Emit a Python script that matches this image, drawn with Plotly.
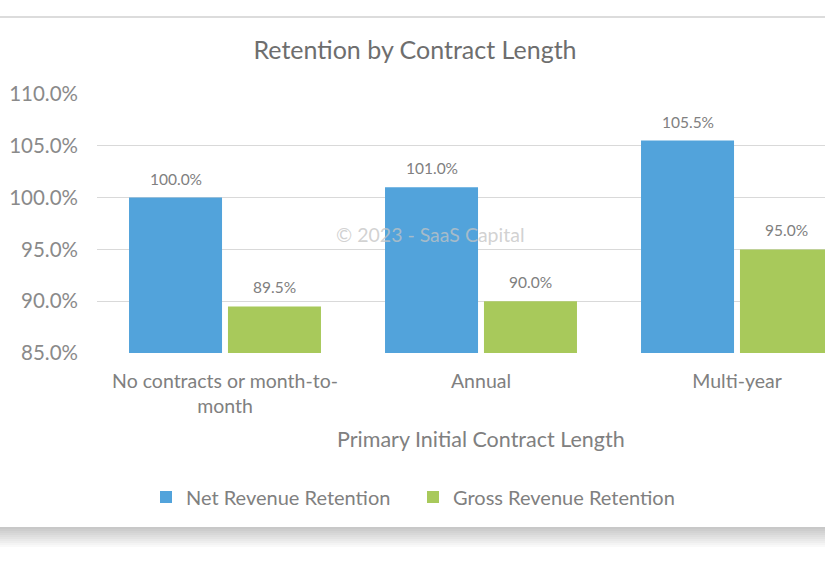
import plotly.graph_objects as go

categories = ["No contracts or month-to-<br>month", "Annual", "Multi-year"]
net_revenue_retention = [100.0, 101.0, 105.5]
gross_revenue_retention = [89.5, 90.0, 95.0]
y_ticks = [85, 90, 95, 100, 105, 110]
y_tick_labels = ["85.0%", "90.0%", "95.0%", "100.0%", "105.0%", "110.0%"]

W, H = 825, 575
L, R, T, B = 97, 0, 94, 222
plot_h = H - T - B
plot_w = W - L - R
BARGAP, GROUPGAP = 0.227, 0.06

def py(px):  # pixel y -> paper y
    return (H - B - px) / plot_h

def pxp(px):  # pixel x -> paper x
    return (px - L) / plot_w

FONT = "Lato"
GREY = "#808080"

fig = go.Figure()
series = [("Net Revenue Retention", net_revenue_retention, "#52a3db"),
          ("Gross Revenue Retention", gross_revenue_retention, "#a8c95b")]
for name, vals, col in series:
    fig.add_trace(go.Bar(name=name, x=categories, y=vals,
                         marker=dict(color=col, line=dict(width=0))))

# data labels placed above each bar (group offsets derived from bargap)
slot = (1 - BARGAP) / len(series)
annotations = []
for s_idx, (name, vals, col) in enumerate(series):
    off = -(1 - BARGAP) / 2 + slot * (s_idx + 0.5)
    for c_idx, v in enumerate(vals):
        annotations.append(dict(text=f"{v:.1f}%", x=c_idx + off, xref="x", y=v, yref="y",
                                yshift=19, showarrow=False, xanchor="center", yanchor="middle",
                                font=dict(size=15.5, color=GREY, family=FONT)))

shapes = [dict(type="line", xref="paper", yref="paper", x0=pxp(-5), x1=pxp(W + 5),
               y0=py(17), y1=py(17), line=dict(color="#dcdcdc", width=2), layer="below")]
# bottom card shadow
for i in range(11):
    g = int(200 + i * 5.5)
    shapes.append(dict(type="rect", xref="paper", yref="paper",
                       x0=pxp(-5), x1=pxp(W + 5), y0=py(527 + 2 * i), y1=py(529 + 2 * i),
                       fillcolor=f"rgb({g},{g},{g})", line=dict(width=0), layer="below"))

annotations += [
    dict(text="Primary Initial Contract Length", x=1, xref="x", y=py(439), yref="paper",
         showarrow=False, xanchor="center", yanchor="middle",
         font=dict(size=21.5, color=GREY, family=FONT)),
    dict(text="© 2023 - SaaS Capital", x=pxp(430), xref="paper", y=py(234), yref="paper",
         showarrow=False, xanchor="center", yanchor="middle",
         font=dict(size=19.5, color="rgba(195,195,195,0.75)", family=FONT)),
]

fig.update_layout(
    width=W, height=H,
    margin=dict(l=L, r=R, t=T, b=B),
    paper_bgcolor="white", plot_bgcolor="white",
    font=dict(family=FONT, color=GREY),
    barmode="group", bargap=BARGAP, bargroupgap=GROUPGAP,
    title=dict(text="Retention by Contract Length", x=415 / W, xanchor="center",
               y=1 - 50 / H, yanchor="middle", yref="container",
               font=dict(size=25, color="#6e6e6e", family=FONT)),
    xaxis=dict(range=[-0.5, -0.5 + plot_w / 256.0], showgrid=False, zeroline=False,
               showline=False, ticks="", ticklabelstandoff=14,
               tickfont=dict(size=19.5, color=GREY, family=FONT)),
    yaxis=dict(range=[85, 110], tickvals=y_ticks, ticktext=y_tick_labels,
               showgrid=True, gridcolor="#d9d9d9", gridwidth=1, zeroline=False,
               showline=False, ticks="", ticklabelstandoff=18,
               tickfont=dict(size=20.5, color="#8a8a8a", family=FONT)),
    showlegend=True,
    legend=dict(orientation="h", x=pxp(146), xanchor="left", y=py(497), yanchor="middle",
                font=dict(size=20, color=GREY, family=FONT), bgcolor="rgba(0,0,0,0)",
                itemwidth=30, traceorder="normal", entrywidth=222, entrywidthmode="pixels"),
    shapes=shapes,
    annotations=annotations,
)
fig.write_html("out.html")
